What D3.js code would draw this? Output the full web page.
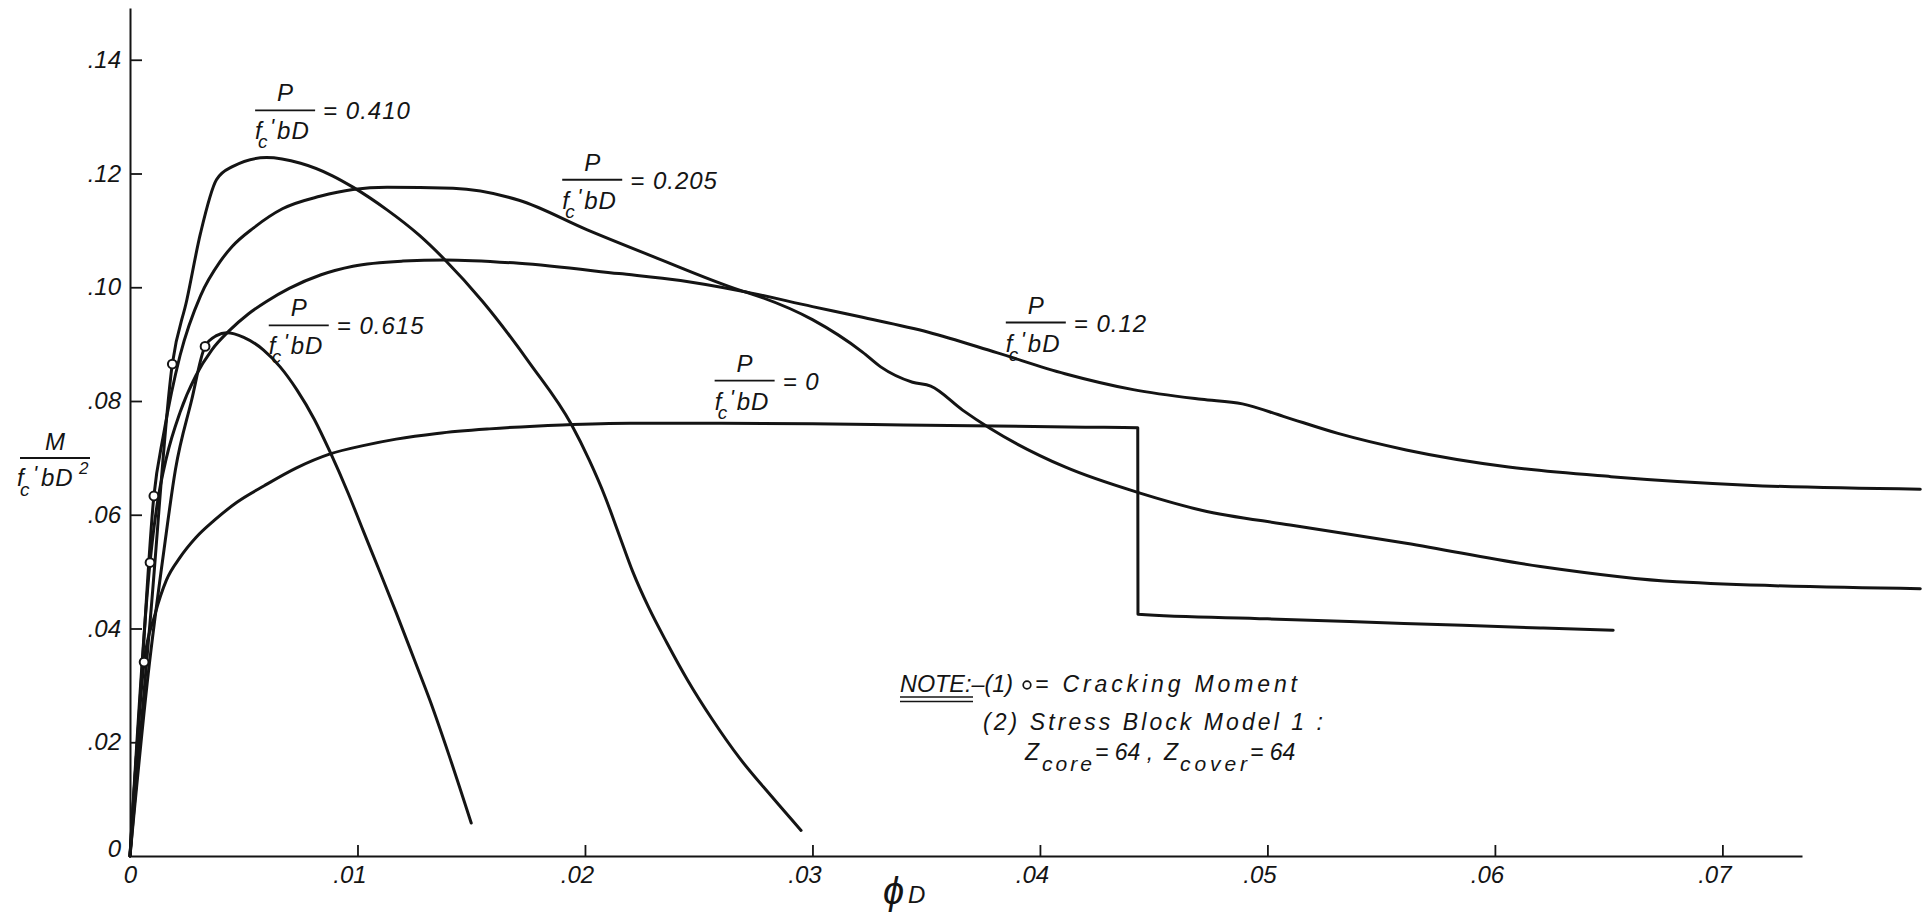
<!DOCTYPE html>
<html><head><meta charset="utf-8">
<script src="https://cdn.jsdelivr.net/npm/d3@7"></script>
<style>
html,body{margin:0;padding:0;background:#fff;}
svg{display:block;}
text{font-family:"Liberation Sans", Arial, sans-serif; font-style:italic; fill:#141414;}
</style></head><body>
<svg id="chart" width="1929" height="912"></svg>
<script>
// ---------- data ----------
const xTickValues = [0, 0.01, 0.02, 0.03, 0.04, 0.05, 0.06, 0.07];
const xTickLabels = ["0", ".01", ".02", ".03", ".04", ".05", ".06", ".07"];
const yTickValues = [0, 0.02, 0.04, 0.06, 0.08, 0.10, 0.12, 0.14];
const yTickLabels = ["0", ".02", ".04", ".06", ".08", ".10", ".12", ".14"];

const seriesNames = ["0", "0.12", "0.205", "0.410", "0.615"];

const phiP0 = [0, 0.00062, 0.0011, 0.0016, 0.0022, 0.0029, 0.0037, 0.0047, 0.0059, 0.0073, 0.0088, 0.0103, 0.0117, 0.0135, 0.0158, 0.0190, 0.0220, 0.0260, 0.0300, 0.0340, 0.0380, 0.0420, 0.0443, 0.04431, 0.0500, 0.0560, 0.0620, 0.0652];
const mP0   = [0, 0.0341, 0.0425, 0.0485, 0.0525, 0.0560, 0.0590, 0.0622, 0.0651, 0.0682, 0.0707, 0.0722, 0.0733, 0.0743, 0.0751, 0.0758, 0.0761, 0.0761, 0.0760, 0.0758, 0.0756, 0.0754, 0.0753, 0.0425, 0.0417, 0.0409, 0.0401, 0.0397];

const phiP012 = [0, 0.00088, 0.0012, 0.0016, 0.0022, 0.0029, 0.0036, 0.0044, 0.0052, 0.0060, 0.0070, 0.0084, 0.0098, 0.0120, 0.01385, 0.0171, 0.0215, 0.0242, 0.0268, 0.0300, 0.0321, 0.0351, 0.0381, 0.0411, 0.0441, 0.0471, 0.0489, 0.0507, 0.0531, 0.0561, 0.0606, 0.0651, 0.0711, 0.0787];
const mP012   = [0, 0.0516, 0.0620, 0.0700, 0.0780, 0.0845, 0.0890, 0.0925, 0.0953, 0.0975, 0.0998, 0.1022, 0.1037, 0.1046, 0.1048, 0.1042, 0.1024, 0.1012, 0.0994, 0.0966, 0.0948, 0.0921, 0.0885, 0.0848, 0.0820, 0.0803, 0.0795, 0.0773, 0.0743, 0.0714, 0.0684, 0.0667, 0.0652, 0.0645];

const phiP0205 = [0, 0.0005, 0.00105, 0.00147, 0.0022, 0.0031, 0.00396, 0.0045, 0.00542, 0.0067, 0.00835, 0.0098, 0.0113, 0.0142, 0.0171, 0.0201, 0.0230, 0.0268, 0.0275, 0.0300, 0.0322, 0.0330, 0.0344, 0.0352, 0.0366, 0.0378, 0.0411, 0.0444, 0.0471, 0.0510, 0.0561, 0.0620, 0.0680, 0.0787];
const mP0205   = [0, 0.0310, 0.0633, 0.0740, 0.0880, 0.0985, 0.1045, 0.1072, 0.1104, 0.1138, 0.1160, 0.1172, 0.1176, 0.1174, 0.1153, 0.1101, 0.1054, 0.0995, 0.0986, 0.0943, 0.0886, 0.0860, 0.0833, 0.0826, 0.0784, 0.0752, 0.0684, 0.0638, 0.0608, 0.0582, 0.0550, 0.0509, 0.0482, 0.0470];

const phiP041 = [0, 0.0009, 0.00186, 0.0025, 0.0031, 0.0038, 0.0045, 0.0060, 0.0075, 0.0089, 0.0098, 0.0113, 0.0127, 0.01385, 0.0155, 0.0176, 0.0194, 0.0202, 0.0209, 0.0215, 0.0221, 0.0228, 0.0236, 0.0245, 0.0256, 0.0268, 0.0282, 0.0295];
const mP041   = [0, 0.0420, 0.0865, 0.0978, 0.1095, 0.1189, 0.1212, 0.1228, 0.1218, 0.1196, 0.1176, 0.1136, 0.1092, 0.1048, 0.0975, 0.0865, 0.0759, 0.0695, 0.0630, 0.0565, 0.0500, 0.0437, 0.0375, 0.0310, 0.0240, 0.0172, 0.0105, 0.0045];

const phiP0615 = [0, 0.0008, 0.0015, 0.0020, 0.0027, 0.0033, 0.0038, 0.00425, 0.0050, 0.00586, 0.0066, 0.00733, 0.0081, 0.0088, 0.0096, 0.01025, 0.0110, 0.0117, 0.0125, 0.0132, 0.0140, 0.0150];
const mP0615   = [0, 0.0320, 0.0540, 0.0680, 0.0800, 0.0896, 0.0915, 0.0920, 0.0912, 0.0890, 0.0860, 0.0820, 0.0768, 0.0710, 0.0637, 0.0572, 0.0498, 0.0428, 0.0345, 0.0272, 0.0180, 0.0058];

// cracking moments (open circles)
const crackPhi = [0.00062, 0.00088, 0.00105, 0.00186, 0.0033];
const crackM   = [0.0341, 0.0516, 0.0633, 0.0865, 0.0896];

// ---------- layout ----------
const svg = d3.select("#chart");
const x = d3.scaleLinear().domain([0, 0.0735]).range([130, 1802]);
const y = d3.scaleLinear().domain([0, 0.1491]).range([856, 8]);
const ink = "#141414";

// axes
const yAxis = d3.axisLeft(y).tickValues(yTickValues)
  .tickFormat((d, i) => yTickLabels[i]).tickSizeInner(-12).tickSizeOuter(0).tickPadding(9);
const gy = svg.append("g").attr("transform", `translate(${x(0)},0)`).call(yAxis);
const xAxis = d3.axisBottom(x).tickValues(xTickValues)
  .tickFormat((d, i) => xTickLabels[i]).tickSizeInner(-11).tickSizeOuter(0).tickPadding(10);
const gx = svg.append("g").attr("transform", `translate(0,${y(0)})`).call(xAxis);

[gx, gy].forEach(g => {
  g.select(".domain").attr("stroke", ink).attr("stroke-width", 2);
  g.selectAll(".tick line").attr("stroke", ink).attr("stroke-width", 1.8);
  g.selectAll(".tick text").attr("font-size", 24).attr("fill", ink)
    .attr("font-family", '"Liberation Sans", Arial, sans-serif').attr("font-style", "italic");
});
gx.selectAll(".tick").filter(d => d === 0).select("line").remove();
gy.selectAll(".tick").filter(d => d === 0).select("line").remove();
gx.selectAll(".tick text").attr("dx", d => d === 0 ? 0 : -8);
gy.selectAll(".tick").filter(d => d === 0).select("text").attr("dy", "0.0em");

// curves
const line = d3.line().x(d => x(d[0])).y(d => y(d[1])).curve(d3.curveMonotoneX);
const curves = [[phiP0, mP0], [phiP012, mP012], [phiP0205, mP0205], [phiP041, mP041], [phiP0615, mP0615]];
svg.append("g").selectAll("path").data(curves).join("path")
  .attr("d", c => line(c[0].map((v, i) => [v, c[1][i]])))
  .attr("fill", "none").attr("stroke", ink).attr("stroke-width", 3)
  .attr("stroke-linejoin", "round").attr("stroke-linecap", "round");

// cracking circles
svg.append("g").selectAll("circle").data(crackPhi).join("circle")
  .attr("cx", d => x(d)).attr("cy", (d, i) => y(crackM[i]))
  .attr("r", 4.4).attr("fill", "#fff").attr("stroke", ink).attr("stroke-width", 2);

// ---------- curve labels  P / f'c bD = value ----------
const labelAnchors = [
  {name: "0.410", px: 0.0055, m: 0.1311},
  {name: "0.205", px: 0.0190, m: 0.1189},
  {name: "0.615", px: 0.0061, m: 0.0933},
  {name: "0",     px: 0.0257, m: 0.0836},
  {name: "0.12",  px: 0.0385, m: 0.0938}
];
const fracW = 60;
labelAnchors.forEach(a => {
  const g = svg.append("g").attr("transform", `translate(${x(a.px)},${y(a.m)})`);
  g.append("line").attr("x1", 0).attr("x2", fracW).attr("y1", 0).attr("y2", 0)
    .attr("stroke", ink).attr("stroke-width", 1.8);
  g.append("text").attr("x", fracW / 2).attr("y", -9).attr("text-anchor", "middle").attr("font-size", 24).text("P");
  g.append("text").attr("x", 0).attr("y", 29).attr("font-size", 24).text("f");
  g.append("text").attr("x", 3).attr("y", 38).attr("font-size", 19).text("c");
  g.append("text").attr("x", 15).attr("y", 24).attr("font-size", 22).text("'");
  g.append("text").attr("x", 22).attr("y", 29).attr("font-size", 24).attr("letter-spacing", 1).text("bD");
  g.append("text").attr("x", fracW + 8).attr("y", 9).attr("font-size", 24).attr("letter-spacing", 1).text("= " + a.name);
});

// ---------- axis titles ----------
const yt = svg.append("g").attr("transform", "translate(20,458)");
yt.append("text").attr("x", 35).attr("y", -8).attr("text-anchor", "middle").attr("font-size", 24).text("M");
yt.append("line").attr("x1", 0).attr("x2", 70).attr("stroke", ink).attr("stroke-width", 1.8);
yt.append("text").attr("x", -3).attr("y", 28).attr("font-size", 24).text("f");
yt.append("text").attr("x", 0).attr("y", 38).attr("font-size", 19).text("c");
yt.append("text").attr("x", 13).attr("y", 23).attr("font-size", 22).text("'");
yt.append("text").attr("x", 21).attr("y", 28).attr("font-size", 24).attr("letter-spacing", 1).text("bD");
yt.append("text").attr("x", 59).attr("y", 16).attr("font-size", 17).text("2");

const xt = svg.append("g").attr("transform", "translate(883,904)");
xt.append("text").attr("x", 0).attr("y", 0).attr("font-size", 38).attr("font-style", "normal")
  .attr("font-family", '"DejaVu Sans", sans-serif').text("ϕ");
xt.append("text").attr("x", 25).attr("y", -1).attr("font-size", 24).text("D");

// ---------- note ----------
const note = svg.append("g");
note.append("text").attr("x", 900).attr("y", 692).attr("font-size", 23)
  .attr("textLength", 113).attr("lengthAdjust", "spacingAndGlyphs").text("NOTE:–(1)");
note.append("line").attr("x1", 900).attr("x2", 973).attr("y1", 697).attr("y2", 697).attr("stroke", ink).attr("stroke-width", 1.6);
note.append("line").attr("x1", 900).attr("x2", 973).attr("y1", 701.5).attr("y2", 701.5).attr("stroke", ink).attr("stroke-width", 1.6);
note.append("circle").attr("cx", 1027).attr("cy", 685).attr("r", 3.8).attr("fill", "#fff").attr("stroke", ink).attr("stroke-width", 1.7);
note.append("text").attr("x", 1035).attr("y", 692).attr("font-size", 23)
  .attr("textLength", 262).attr("lengthAdjust", "spacing").text("= Cracking  Moment");
note.append("text").attr("x", 983).attr("y", 730).attr("font-size", 23)
  .attr("textLength", 340).attr("lengthAdjust", "spacing").text("(2) Stress  Block  Model 1 :");
note.append("text").attr("x", 1025).attr("y", 760).attr("font-size", 23).text("Z");
note.append("text").attr("x", 1042).attr("y", 771).attr("font-size", 21)
  .attr("textLength", 50).attr("lengthAdjust", "spacing").text("core");
note.append("text").attr("x", 1095).attr("y", 760).attr("font-size", 23).text("= 64 ,");
note.append("text").attr("x", 1164).attr("y", 760).attr("font-size", 23).text("Z");
note.append("text").attr("x", 1180).attr("y", 771).attr("font-size", 21)
  .attr("textLength", 67).attr("lengthAdjust", "spacing").text("cover");
note.append("text").attr("x", 1250).attr("y", 760).attr("font-size", 23).text("= 64");
</script>
</body></html>
